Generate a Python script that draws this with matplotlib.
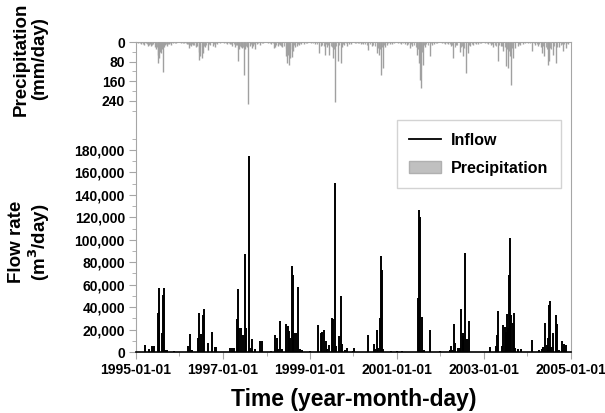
import matplotlib
matplotlib.use("Agg")
import matplotlib.pyplot as plt
import matplotlib.dates as mdates
from matplotlib.patches import Patch
from matplotlib.ticker import FixedLocator, FuncFormatter
import pandas as pd

plt.rcParams['font.family'] = ['Liberation Sans', 'DejaVu Sans']
plt.rcParams['font.weight'] = 'bold'

# daily inflow peaks (m3/day), days not listed are ~0
inflow_dates = [
    '1995-03-18', '1995-04-23', '1995-05-15', '1995-06-02', '1995-07-02', '1995-07-09', '1995-07-16',
    '1995-08-07', '1995-08-14', '1995-08-22', '1995-08-29', '1995-09-16', '1995-11-18',
    '1996-03-15', '1996-03-29', '1996-04-07', '1996-04-12', '1996-06-06', '1996-06-13', '1996-06-28',
    '1996-07-13', '1996-07-24', '1996-08-25', '1996-10-01', '1996-10-23', '1996-11-06',
    '1997-02-28', '1997-03-18', '1997-04-05', '1997-05-01', '1997-05-08', '1997-05-19', '1997-05-30',
    '1997-06-21', '1997-07-02', '1997-07-13', '1997-08-04', '1997-08-14', '1997-09-02', '1997-09-23',
    '1997-11-08', '1997-11-21',
    '1998-02-06', '1998-03-15', '1998-03-26', '1998-04-05', '1998-04-27', '1998-05-08', '1998-06-17',
    '1998-06-28', '1998-07-09', '1998-07-20', '1998-07-31', '1998-08-11', '1998-08-22', '1998-09-02',
    '1998-09-20', '1998-10-08', '1998-10-30',
    '1999-01-01', '1999-03-11', '1999-04-02', '1999-04-16', '1999-04-27', '1999-05-12', '1999-05-26',
    '1999-06-13', '1999-07-02', '1999-07-13', '1999-07-27', '1999-08-07', '1999-08-29', '1999-09-16',
    '1999-09-27', '1999-10-19', '1999-11-06', '1999-12-28',
    '2000-01-05', '2000-05-01', '2000-06-21', '2000-07-02', '2000-07-16', '2000-07-27', '2000-08-07',
    '2000-08-18', '2000-08-29', '2000-09-09', '2000-11-14',
    '2001-01-01', '2001-02-10', '2001-06-24', '2001-07-06', '2001-07-16', '2001-07-31', '2001-08-14',
    '2001-10-01',
    '2002-01-01', '2002-03-18', '2002-03-29', '2002-04-05', '2002-04-23', '2002-05-04', '2002-05-26',
    '2002-06-10', '2002-06-24', '2002-07-05', '2002-07-13', '2002-07-27', '2002-08-11', '2002-08-25',
    '2003-02-17', '2003-04-09', '2003-04-20', '2003-05-01', '2003-06-02', '2003-06-13', '2003-06-24',
    '2003-07-06', '2003-07-16', '2003-07-24', '2003-07-31', '2003-08-07', '2003-08-14', '2003-08-29',
    '2003-09-09', '2003-09-20', '2003-10-15', '2003-11-06',
    '2004-02-10', '2004-04-05', '2004-05-04', '2004-05-15', '2004-05-26', '2004-06-10', '2004-06-21',
    '2004-07-02', '2004-07-09', '2004-07-20', '2004-08-07', '2004-08-25', '2004-09-05', '2004-09-20',
    '2004-10-19', '2004-11-03', '2004-11-21',
]
inflow = [
    6000, 3000, 5000, 5000, 35000, 57000, 36000,
    17000, 51000, 57000, 2000, 1500, 800,
    5400, 16400, 2000, 2000, 12800, 34500, 15800,
    33000, 38000, 8300, 18000, 4800, 4800,
    3300, 3300, 3900, 29000, 56000, 21000, 21000,
    15000, 87000, 21000, 175000, 3900, 12000, 3000,
    9800, 9800,
    1200, 15000, 12200, 3000, 28000, 3000, 25000,
    23000, 19000, 12800, 77000, 69000, 17000, 17000,
    58000, 3000, 1500,
    1000, 24500, 17300, 18000, 19500, 9800, 3000,
    6200, 30500, 29000, 151000, 5000, 14300, 50000,
    6800, 1500, 3300, 1000,
    3300, 15000, 6800, 3000, 20000, 4000, 30000,
    86000, 73000, 3000, 800,
    1000, 1000, 48000, 127000, 120000, 31000, 2000,
    20000,
    500, 1500, 5400, 2000, 25000, 7700, 4000,
    4000, 38500, 14300, 17300, 88000, 11300, 28000,
    4800, 5400, 15000, 36500, 5000, 24000, 22000,
    18000, 33500, 21000, 69000, 102000, 33000, 26000,
    35000, 4000, 2500, 2500,
    11000, 1500, 3000, 4500, 26000, 6000, 12800,
    42000, 45500, 4500, 17000, 33000, 25000, 1500,
    9800, 6800, 6000,
]

# daily precipitation (mm/day), larger events
precip_dates = [
    '1995-01-20', '1995-02-15', '1995-03-10', '1995-03-25', '1995-04-12', '1995-04-28', '1995-05-10',
    '1995-05-25', '1995-06-08', '1995-06-20', '1995-07-01', '1995-07-06', '1995-07-12', '1995-07-20',
    '1995-07-28', '1995-08-05', '1995-08-16', '1995-08-25', '1995-09-05', '1995-09-18', '1995-10-05',
    '1995-10-20', '1995-11-10', '1995-12-05',
    '1996-01-15', '1996-02-10', '1996-03-05', '1996-03-20', '1996-04-08', '1996-04-25', '1996-05-15',
    '1996-05-28', '1996-06-10', '1996-06-15', '1996-06-22', '1996-07-05', '1996-07-20', '1996-08-01',
    '1996-08-28', '1996-09-15', '1996-10-05', '1996-10-25', '1996-11-15', '1996-12-10',
    '1997-01-10', '1997-02-05', '1997-03-01', '1997-03-20', '1997-04-10', '1997-04-25', '1997-05-08',
    '1997-05-15', '1997-05-28', '1997-06-10', '1997-06-28', '1997-07-05', '1997-07-20', '1997-08-01',
    '1997-08-15', '1997-08-28', '1997-09-10', '1997-09-25', '1997-10-15', '1997-11-05', '1997-12-01',
    '1998-01-15', '1998-02-10', '1998-03-05', '1998-03-15', '1998-04-05', '1998-04-25', '1998-05-15',
    '1998-06-10', '1998-06-20', '1998-07-01', '1998-07-10', '1998-07-20', '1998-07-30', '1998-08-10',
    '1998-08-25', '1998-09-10', '1998-10-01', '1998-10-20', '1998-11-10', '1998-12-05',
    '1999-01-10', '1999-02-10', '1999-03-18', '1999-04-05', '1999-05-04', '1999-05-20', '1999-06-13',
    '1999-07-13', '1999-07-31', '1999-08-25', '1999-09-16', '1999-09-28', '1999-10-15', '1999-11-05',
    '1999-11-25', '1999-12-15',
    '2000-01-10', '2000-02-05', '2000-03-01', '2000-03-25', '2000-05-01', '2000-06-01', '2000-07-13',
    '2000-08-04', '2000-08-22', '2000-09-09', '2000-09-25', '2000-10-10', '2000-10-30', '2000-11-20',
    '2000-12-10',
    '2001-01-10', '2001-02-05', '2001-03-10', '2001-03-22', '2001-04-20', '2001-05-10', '2001-06-21',
    '2001-07-06', '2001-07-16', '2001-07-24', '2001-08-07', '2001-08-25', '2001-10-01', '2001-10-20',
    '2001-11-10', '2001-12-05',
    '2002-01-15', '2002-02-10', '2002-03-05', '2002-04-01', '2002-04-20', '2002-05-10', '2002-06-10',
    '2002-07-09', '2002-07-31', '2002-08-20', '2002-09-10', '2002-10-01', '2002-10-25', '2002-11-15',
    '2002-12-10',
    '2003-01-10', '2003-02-05', '2003-03-01', '2003-03-20', '2003-04-27', '2003-05-20', '2003-06-13',
    '2003-07-06', '2003-07-20', '2003-08-04', '2003-08-14', '2003-08-29', '2003-09-20', '2003-10-10',
    '2003-11-01', '2003-11-25', '2003-12-15',
    '2004-01-10', '2004-02-10', '2004-03-05', '2004-04-01', '2004-04-20', '2004-05-05', '2004-05-23',
    '2004-06-24', '2004-07-02', '2004-08-07', '2004-08-29', '2004-09-20', '2004-10-23', '2004-11-20',
    '2004-12-10',
]
precip = [
    5, 8, 12, 6, 15, 10, 18,
    8, 20, 30, 52, 86, 65, 40,
    45, 30, 124, 20, 12, 15, 8,
    12, 5, 4,
    5, 6, 10, 25, 15, 12, 20,
    15, 72, 40, 58, 65, 45, 20,
    31, 12, 15, 20, 8, 5,
    4, 8, 10, 15, 20, 12, 76,
    30, 20, 25, 136, 30, 20, 255,
    18, 25, 15, 30, 10, 12, 6,
    5, 8, 25, 22, 15, 12, 20,
    58, 86, 55, 92, 65, 60, 38,
    20, 15, 12, 8, 10, 5,
    5, 8, 45, 15, 52, 20, 52,
    65, 246, 79, 86, 20, 12, 15,
    10, 8,
    5, 6, 8, 10, 31, 15, 45,
    55, 136, 106, 20, 12, 10, 8,
    6,
    5, 8, 10, 12, 25, 15, 52,
    86, 154, 188, 92, 20, 58, 12,
    10, 6,
    5, 8, 10, 15, 65, 12, 40,
    58, 126, 45, 15, 12, 10, 8,
    5,
    5, 10, 12, 20, 79, 15, 38,
    99, 106, 58, 174, 65, 25, 15,
    12, 10, 6,
    5, 38, 12, 15, 20, 45, 58,
    92, 79, 52, 86, 20, 35, 25,
    8,
]

# light rain days (mm/day)
light_dates = [
    '1995-01-05', '1995-02-01', '1995-02-25', '1995-03-03', '1995-04-05', '1995-04-18', '1995-05-03',
    '1995-05-18', '1995-06-14', '1995-06-27', '1995-09-10', '1995-09-25', '1995-10-12', '1995-11-25',
    '1996-01-28', '1996-02-22', '1996-03-12', '1996-03-28', '1996-04-15', '1996-05-05', '1996-05-20',
    '1996-07-12', '1996-07-28', '1996-08-10', '1996-09-05', '1996-10-15', '1996-11-02',
    '1997-01-25', '1997-02-18', '1997-03-10', '1997-04-02', '1997-04-18', '1997-05-22', '1997-06-05',
    '1997-06-18', '1997-07-12', '1997-08-22', '1997-09-02', '1997-09-18', '1997-10-25', '1997-11-20',
    '1998-01-28', '1998-02-25', '1998-03-25', '1998-04-15', '1998-05-05', '1998-05-28', '1998-06-15',
    '1998-07-05', '1998-07-15', '1998-08-02', '1998-08-18', '1998-09-20', '1998-10-10', '1998-11-25',
    '1999-01-25', '1999-02-25', '1999-03-05', '1999-04-12', '1999-04-25', '1999-05-12', '1999-06-01',
    '1999-06-25', '1999-07-05', '1999-07-22', '1999-08-10', '1999-09-05', '1999-10-05', '1999-10-28',
    '2000-01-25', '2000-02-20', '2000-03-12', '2000-04-10', '2000-04-22', '2000-05-15', '2000-06-15',
    '2000-06-28', '2000-07-22', '2000-08-12', '2000-08-30', '2000-09-15', '2000-10-20', '2000-11-05',
    '2001-01-25', '2001-02-20', '2001-04-05', '2001-05-01', '2001-05-25', '2001-06-08', '2001-06-30',
    '2001-07-12', '2001-07-28', '2001-08-15', '2001-09-05', '2001-09-20', '2001-10-12', '2001-11-25',
    '2002-01-28', '2002-02-22', '2002-03-20', '2002-04-10', '2002-05-01', '2002-05-22', '2002-06-20',
    '2002-07-02', '2002-07-20', '2002-08-05', '2002-08-28', '2002-09-25', '2002-10-15', '2002-11-28',
    '2003-01-25', '2003-02-20', '2003-03-12', '2003-04-05', '2003-04-15', '2003-05-05', '2003-05-30',
    '2003-06-25', '2003-07-12', '2003-07-28', '2003-08-08', '2003-08-22', '2003-09-05', '2003-10-25',
    '2004-01-25', '2004-02-25', '2004-03-20', '2004-04-10', '2004-05-12', '2004-06-05', '2004-06-15',
    '2004-07-10', '2004-07-20', '2004-08-15', '2004-09-05', '2004-10-05', '2004-10-15', '2004-11-05',
    '2004-12-01',
]
light = [
    3, 4, 6, 10, 8, 14, 9,
    12, 16, 22, 7, 10, 5, 3,
    3, 5, 8, 14, 10, 12, 18,
    22, 15, 12, 8, 10, 6,
    3, 6, 8, 10, 14, 18, 12,
    20, 16, 10, 12, 8, 6, 4,
    3, 6, 12, 8, 15, 18, 25,
    20, 30, 28, 14, 8, 6, 4,
    3, 6, 10, 12, 16, 10, 14,
    18, 22, 30, 15, 14, 8, 6,
    3, 4, 6, 8, 12, 10, 14,
    18, 25, 30, 22, 14, 6, 5,
    3, 5, 8, 10, 12, 20, 28,
    35, 40, 14, 10, 12, 6, 4,
    3, 5, 8, 12, 20, 14, 22,
    18, 25, 30, 12, 8, 6, 4,
    3, 6, 10, 14, 18, 12, 16,
    22, 28, 35, 30, 25, 14, 8,
    3, 6, 8, 10, 16, 22, 28,
    25, 30, 18, 20, 12, 10, 8,
    5,
]

flow_ticks = [0, 20000, 40000, 60000, 80000, 100000, 120000, 140000, 160000, 180000]
precip_ticks = [0, 80, 160, 240]
xtick_labels = ['1995-01-01', '1997-01-01', '1999-01-01', '2001-01-01', '2003-01-01', '2005-01-01']

t_flow = pd.to_datetime(inflow_dates)
t_prec = pd.to_datetime(precip_dates)
t_light = pd.to_datetime(light_dates)

frame = '#a6a6a6'

fig = plt.figure(figsize=(6.05, 4.13), dpi=100)
ax = fig.add_axes([136 / 605, 1 - 352 / 413, 435 / 605, 310 / 413])

ax.vlines(t_flow, 0, inflow, color='black', lw=1.4)
ax.set_xlim(pd.Timestamp('1995-01-01'), pd.Timestamp('2005-01-01'))
ax.set_ylim(0, 276300)
ax.yaxis.set_major_locator(FixedLocator(flow_ticks))
ax.yaxis.set_minor_locator(FixedLocator([v + 10000 for v in flow_ticks]))
ax.yaxis.set_major_formatter(FuncFormatter(lambda v, p: f'{v:,.0f}'))
ax.set_xticks(pd.to_datetime(xtick_labels))
ax.set_xticklabels(xtick_labels)
ax.xaxis.set_minor_locator(mdates.YearLocator(1))

ax.tick_params(which='both', direction='out', color=frame, labelsize=10, pad=3)
ax.tick_params(which='major', length=5)
ax.tick_params(which='minor', length=3)
for lab in ax.get_xticklabels() + ax.get_yticklabels():
    lab.set_fontweight('bold')
for side in ['left', 'right', 'top']:
    ax.spines[side].set_color(frame)
ax.spines['bottom'].set_color('black')
ax.spines['bottom'].set_linewidth(1.2)

# precipitation hangs from the top on a twin axis, ticks on the left
ax2 = ax.twinx()
ax2.vlines(t_light, 0, light, color='#a8a8a8', lw=0.9)
ax2.vlines(t_prec, 0, precip, color='#a0a0a0', lw=1.0)
ax2.set_ylim(1265, 0)
ax2.yaxis.tick_left()
ax2.yaxis.set_major_locator(FixedLocator(precip_ticks))
ax2.yaxis.set_minor_locator(FixedLocator([40, 120, 200, 280]))
ax2.tick_params(which='both', direction='out', color=frame, labelsize=10, pad=3)
ax2.tick_params(which='major', length=5)
ax2.tick_params(which='minor', length=3)
for lab in ax2.get_yticklabels():
    lab.set_fontweight('bold')
for s in ax2.spines.values():
    s.set_visible(False)

handles = [plt.Line2D([], [], color='black', lw=1.3),
           Patch(facecolor='#c0c0c0', edgecolor='#b0b0b0')]
leg = ax2.legend(handles, ['Inflow', 'Precipitation'], loc='upper right',
                 bbox_to_anchor=(0.977, 0.748), borderaxespad=0, fancybox=False,
                 edgecolor='#c8c8c8', prop={'size': 11.5, 'weight': 'bold'},
                 handlelength=2.0, borderpad=0.8, labelspacing=0.8, handletextpad=0.6)
leg.get_frame().set_linewidth(1.0)

ax.set_xlabel('Time (year-month-day)', fontsize=16.5, fontweight='bold', labelpad=8)
fig.text(30 / 605, 1 - 59 / 413, 'Precipitation\n(mm/day)', rotation=90, ha='center', va='center',
         fontsize=13.5, fontweight='bold', linespacing=1.1, multialignment='center')
fig.text(30 / 605, 1 - 242 / 413, 'Flow rate\n(m$^3$/day)', rotation=90, ha='center', va='center',
         fontsize=13.5, fontweight='bold', linespacing=1.1, multialignment='center')

fig.savefig('out.png', dpi=100)
